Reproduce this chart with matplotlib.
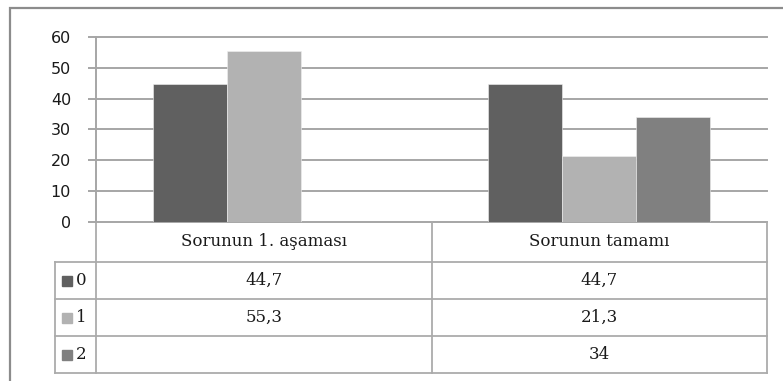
import numpy as np
import matplotlib

matplotlib.use("Agg")
import matplotlib.pyplot as plt  # noqa: E402
from matplotlib.patches import Rectangle  # noqa: E402
from matplotlib.lines import Line2D  # noqa: E402

categories = ["Sorunun 1. aşaması", "Sorunun tamamı"]
series_names = ["0", "1", "2"]
values_0 = [44.7, 44.7]
values_1 = [55.3, 21.3]
values_2 = [None, 34]
y_ticks = [0, 10, 20, 30, 40, 50, 60]

series = [values_0, values_1, values_2]
colors = ["#606060", "#b2b2b2", "#808080"]
grid_color = "#a6a6a6"
table_color = "#ababab"
frame_color = "#8c8c8c"

W, H = 783, 381
fig = plt.figure(figsize=(W / 100, H / 100), dpi=100)
fig.patch.set_facecolor("white")

# plot area in pixels: x 96..767, y 37 (top) .. 222 (zero line)
ax = fig.add_axes([96 / W, 1 - 222 / H, (767 - 96) / W, (222 - 37) / H])
ax.set_facecolor("none")

x = np.arange(len(categories))
bar_w = 0.2206
for i, vals in enumerate(series):
    for j, v in enumerate(vals):
        if v is None:
            continue
        ax.bar(x[j] + (i - 1) * bar_w, v, width=bar_w, color=colors[i],
               edgecolor="#f0f0f0", linewidth=0.4, zorder=3)

ax.set_xlim(-0.5, len(categories) - 0.5)
ax.set_ylim(0, 60)
ax.set_yticks(y_ticks)
ax.set_yticklabels([str(t) for t in y_ticks], fontsize=11.5, color="#1a1a1a")
ax.set_xticks([])
ax.tick_params(axis="y", length=6, width=1.4, color=grid_color, pad=12)
ax.grid(axis="y", color=grid_color, linewidth=1.4, zorder=0)
for gl in ax.get_ygridlines():
    gl.set_clip_on(False)
ax.set_axisbelow(True)
for side in ["top", "right", "bottom"]:
    ax.spines[side].set_visible(False)
ax.spines["left"].set_color(grid_color)
ax.spines["left"].set_linewidth(1.4)


# data table under the plot: px rows -> axes fraction
def row_y(py):
    return (222 - py) / 185.0


def col_x(px):
    return (px - 96) / 671.0


tr = ax.transAxes
row_edges = [262, 299, 336, 373]
kw = dict(color=table_color, linewidth=1.3, transform=tr, clip_on=False)

for py in row_edges:
    ax.add_line(Line2D([col_x(55), 1], [row_y(py)] * 2, **kw))
for px in [96, 432, 767]:
    ax.add_line(Line2D([col_x(px)] * 2, [0, row_y(373)], **kw))
ax.add_line(Line2D([col_x(55)] * 2, [row_y(262), row_y(373)], **kw))

cell_font = dict(family="DejaVu Serif", fontsize=12, color="#1a1a1a")
col_bounds = [96, 432, 767]
for j, cat in enumerate(categories):
    cx = col_x((col_bounds[j] + col_bounds[j + 1]) / 2)
    ax.text(cx, row_y(242), cat, ha="center", va="center", transform=tr, **cell_font)

row_centres = [280.5, 317.5, 354.5]
for i, vals in enumerate(series):
    cy = row_y(row_centres[i])
    ax.plot([col_x(67)], [cy], marker="s", markersize=6.5, color=colors[i],
            transform=tr, clip_on=False, linestyle="none")
    ax.text(col_x(76), cy, series_names[i], ha="left", va="center",
            transform=tr, **cell_font)
    for j, v in enumerate(vals):
        if v is None:
            continue
        label = f"{v:g}".replace(".", ",")
        cx = col_x((col_bounds[j] + col_bounds[j + 1]) / 2)
        ax.text(cx, cy, label, ha="center", va="center", transform=tr, **cell_font)

# outer chart frame
fig.patches.append(Rectangle((10 / W, -0.05), 1.0, 1 - 8 / H + 0.05,
                             transform=fig.transFigure, fill=False,
                             edgecolor=frame_color, linewidth=1.6))

fig.savefig("out.png", dpi=100)
